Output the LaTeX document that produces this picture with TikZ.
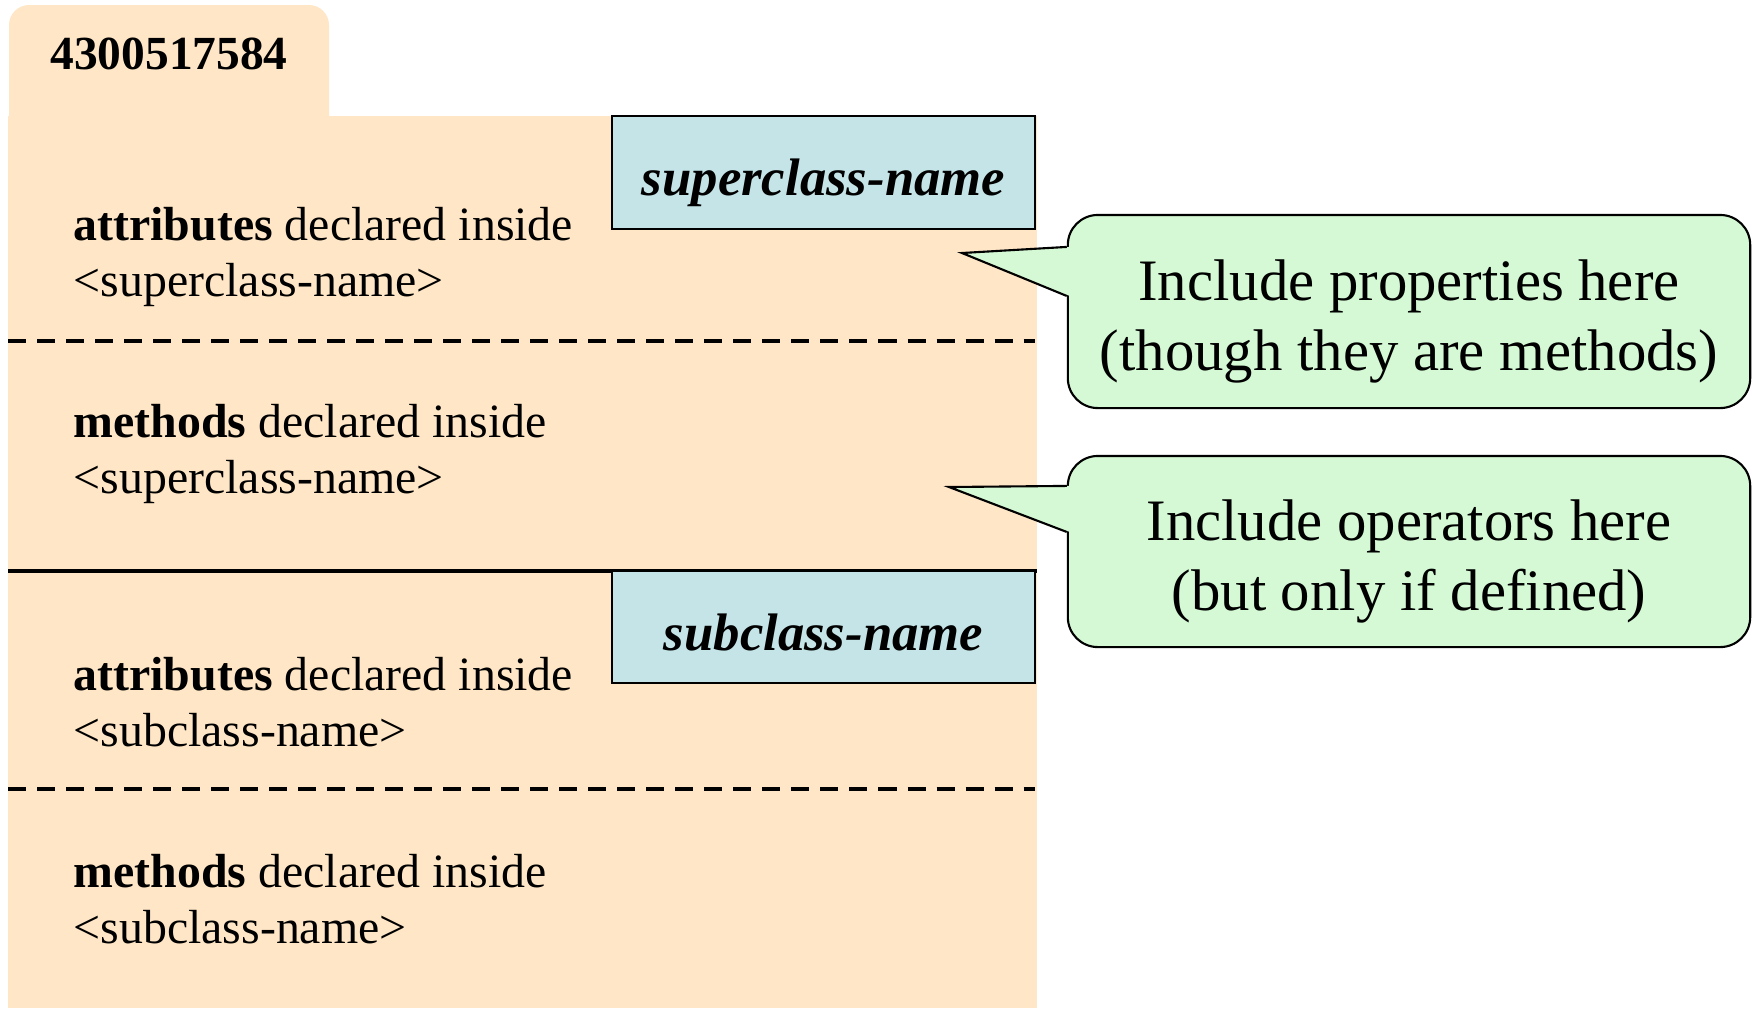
\documentclass[tikz,border=0pt]{standalone}
\usepackage{fontspec}
\setmainfont{Liberation Serif}
\usetikzlibrary{positioning}
\definecolor{folderbg}{RGB}{254,230,198}
\definecolor{classbg}{RGB}{196,228,231}
\definecolor{notebg}{RGB}{212,249,212}

\begin{document}
\begin{tikzpicture}[x=0.01cm,y=-0.01cm,
  entry/.style={anchor=west,align=left,inner sep=0pt,font=\fontsize{13.6}{16}\selectfont},
  classname/.style={draw=black,line width=0.6pt,fill=classbg,minimum width=4.23cm,inner sep=0pt,
    text height=16.4pt,text depth=3.3pt,font=\fontsize{15}{18}\selectfont\bfseries\itshape},
  note/.style={draw=black,line width=0.6pt,fill=notebg,rounded corners=0.3cm,minimum width=6.82cm},
  notetext/.style={align=center,inner sep=0pt,font=\fontsize{16.7}{20}\selectfont},
  sep/.style={line width=0.9pt,dash pattern=on 0.18cm off 0.11cm}]
\useasboundingbox (0,0) rectangle (1752,1008);

% folder: tab + body
\fill[folderbg,rounded corners=0.2cm] (9,140) -- (9,5) -- (329,5) -- (329,140) -- cycle;
\fill[folderbg] (8,116) rectangle (1037,1008);
\draw(169,54) node (id) {\fontsize{13.5}{16}\selectfont\bfseries 4300517584};

% compartments
\draw[sep] (8,341) -- (1035,341);
\draw[line width=1pt] (8,571) -- (1037,571);
\draw[sep] (8,789) -- (1035,789);

\draw(823.5,172.5) node[classname,minimum height=1.13cm] (super) {superclass-name};
\draw(823.5,627) node[classname,minimum height=1.12cm] (sub) {subclass-name};

\draw(73,257) node[entry] (superattr) {\textbf{attributes} declared inside\\<superclass-name>};
\draw(73,454) node[entry] (supermeth) {\textbf{methods} declared inside\\<superclass-name>};
\draw(73,702) node[entry] (subattr) {\textbf{attributes} declared inside\\<subclass-name>};
\draw(73,899) node[entry] (submeth) {\textbf{methods} declared inside\\<subclass-name>};

% notes
\draw(1409,311.5) node[note,minimum height=1.93cm] (props) {};
\draw(1409,321.5) node[notetext] (propstext) {Include properties here\\(though they are methods)};
\draw(1409,551.5) node[note,minimum height=1.91cm] (ops) {};
\draw(1409,561.5) node[notetext] (opstext) {Include operators here\\(but only if defined)};

\coordinate (propstip) at (962,253);
\coordinate (opstip) at (949,487);
\fill[notebg] ([yshift=-0.33cm,xshift=0.03cm]props.north west) -- (propstip) -- ([yshift=-0.82cm,xshift=0.03cm]props.north west) -- cycle;
\draw[line width=0.6pt] ([yshift=-0.33cm]props.north west) -- (propstip) -- ([yshift=-0.82cm]props.north west);
\fill[notebg] ([yshift=-0.31cm,xshift=0.03cm]ops.north west) -- (opstip) -- ([yshift=-0.77cm,xshift=0.03cm]ops.north west) -- cycle;
\draw[line width=0.6pt] ([yshift=-0.31cm]ops.north west) -- (opstip) -- ([yshift=-0.77cm]ops.north west);
\end{tikzpicture}
\end{document}
